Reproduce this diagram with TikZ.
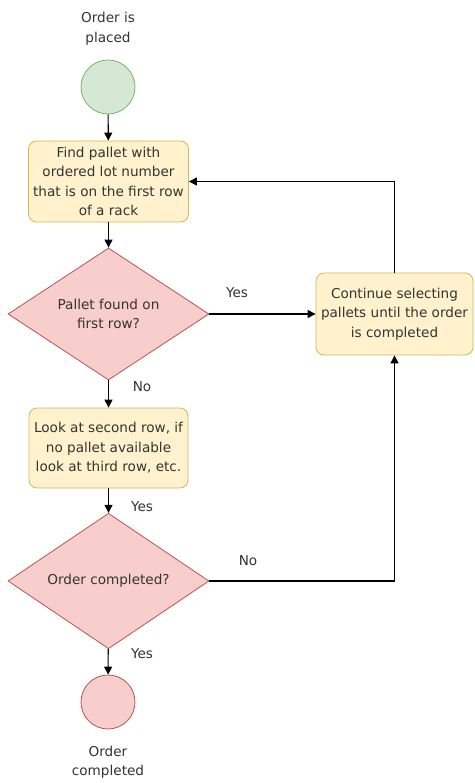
\documentclass[tikz,border=0pt]{standalone}
\usepackage{fontspec}
\setmainfont{DejaVu Sans}
\usetikzlibrary{shapes.geometric,arrows.meta}
\definecolor{greenfill}{HTML}{D5E8D4}
\definecolor{greenline}{HTML}{82B366}
\definecolor{yellowfill}{HTML}{FFF2CC}
\definecolor{yellowline}{HTML}{D6B656}
\definecolor{redfill}{HTML}{F8CECC}
\definecolor{redline}{HTML}{B85450}
\definecolor{txt}{HTML}{333333}
\begin{document}
\begin{tikzpicture}[x=1pt,y=-1pt,
  every node/.style={font=\fontsize{13.6}{19.5}\selectfont, text=txt, align=center, inner sep=0pt},
  startnode/.style={circle, draw=greenline, fill=greenfill, line width=0.8pt, minimum size=54pt},
  endnode/.style={circle, draw=redline, fill=redfill, line width=0.8pt, minimum size=54pt},
  process/.style={rounded corners=8pt, draw=yellowline, fill=yellowfill, line width=0.8pt, minimum width=160pt, minimum height=81pt},
  decision/.style={diamond, draw=redline, fill=redfill, line width=0.8pt, minimum width=201pt, minimum height=132pt},
  arr/.style={draw=black, line width=1.1pt, -{Triangle[length=8pt,width=8pt]}},
  lab/.style={text=txt}]
\useasboundingbox (0,0) rectangle (474,783);

% start / end events
\node (startlbl) at (108,29) {Order is\\placed};
\node[startnode] (start) at (108,87) {};
\node[endnode] (stop) at (108,702) {};
\node (stoplbl) at (108,762) {Order\\completed};

% process steps
\node[process] (find) at (108.5,181.5) {Find pallet with\\ordered lot number\\that is on the first row\\of a rack};
\node[decision] (q1) at (108.5,314) {Pallet found on\\first row?};
\node[process, minimum width=159pt, minimum height=80pt] (look) at (108.5,448) {Look at second row, if\\no pallet available\\look at third row, etc.};
\node[decision] (q2) at (108.5,581) {Order completed?};
\node[process, minimum width=157pt, minimum height=82pt] (cont) at (394.5,314) {Continue selecting\\pallets until the order\\is completed};

% connectors
\draw[arr] (start) -- (find);
\draw[arr] (find) -- (q1);
\draw[arr] (q1) -- (cont);
\draw[arr] (cont.north) |- (find.east);
\draw[arr] (q1) -- (look);
\draw[arr] (look) -- (q2);
\draw[arr] (q2.east) -| (cont.south);
\draw[arr] (q2) -- (stop);

% branch labels
\node[lab] (yes1) at (237,293) {Yes};
\node[lab] (no1) at (142,387) {No};
\node[lab] (yes2) at (142,507) {Yes};
\node[lab] (no2) at (248,561) {No};
\node[lab] (yes3) at (142,654) {Yes};
\end{tikzpicture}
\end{document}
